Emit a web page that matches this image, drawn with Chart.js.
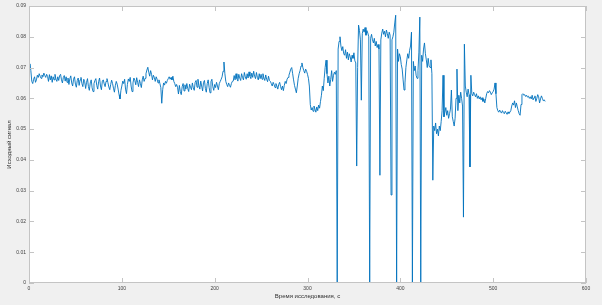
<!DOCTYPE html>
<html>
<head>
<meta charset="utf-8">
<script src="https://cdn.jsdelivr.net/npm/chart.js@4/dist/chart.umd.min.js"></script>
<style>
  html, body { margin: 0; padding: 0; background: #f0f0f0; }
  #wrap { width: 602px; height: 305px; }
</style>
</head>
<body>
<div id="wrap"><canvas id="signal-chart" width="602" height="305"></canvas></div>
<script>
// сигнал, 1 отсчёт в секунду, t = 0..556 c
const signal = [
  .0700, .0712, .0690, .0655, .0648, .0662, .0670, .0652, .0660, .0675, .0668, .0680, .0672, .0665, .0676, .0670, .0682, .0674, .0668, .0678,
  .0671, .0655, .0677, .0660, .0673, .0652, .0670, .0660, .0678, .0662, .0655, .0670, .0658, .0674, .0678, .0660, .0650, .0668, .0674, .0656,
  .0670, .0652, .0666, .0645, .0664, .0673, .0650, .0640, .0662, .0670, .0646, .0636, .0658, .0666, .0642, .0660, .0668, .0648, .0638, .0662,
  .0654, .0632, .0652, .0664, .0638, .0626, .0650, .0660, .0634, .0622, .0648, .0658, .0664, .0642, .0630, .0654, .0666, .0640, .0628, .0656,
  .0660, .0647, .0638, .0655, .0664, .0651, .0637, .0628, .0645, .0659, .0648, .0633, .0620, .0641, .0655, .0646, .0630, .0612, .0598, .0625,
  .0640, .0656, .0648, .0662, .0630, .0615, .0645, .0663, .0655, .0668, .0640, .0622, .0650, .0666, .0658, .0644, .0667, .0652, .0638, .0660,
  .0648, .0635, .0660, .0672, .0655, .0665, .0680, .0692, .0701, .0685, .0672, .0690, .0678, .0660, .0675, .0668, .0655, .0670, .0662, .0650,
  .0660, .0648, .0635, .0584, .0628, .0650, .0643, .0655, .0649, .0658, .0664, .0670, .0662, .0668, .0660, .0672, .0655, .0648, .0638, .0645,
  .0636, .0614, .0642, .0622, .0612, .0638, .0648, .0624, .0644, .0630, .0648, .0632, .0622, .0646, .0636, .0628, .0650, .0634, .0626, .0652,
  .0658, .0636, .0662, .0642, .0630, .0656, .0640, .0624, .0652, .0658, .0632, .0620, .0648, .0660, .0636, .0618, .0654, .0662, .0638, .0626,
  .0645, .0635, .0652, .0640, .0628, .0648, .0655, .0662, .0670, .0688, .0718, .0680, .0655, .0645, .0638, .0650, .0642, .0636, .0648, .0655,
  .0656, .0674, .0660, .0680, .0664, .0656, .0678, .0666, .0658, .0680, .0668, .0660, .0684, .0670, .0662, .0680, .0666, .0686, .0672, .0664,
  .0682, .0668, .0688, .0672, .0664, .0684, .0668, .0660, .0680, .0664, .0678, .0662, .0680, .0666, .0658, .0676, .0662, .0654, .0672, .0658,
  .0655, .0648, .0640, .0652, .0645, .0635, .0648, .0640, .0630, .0645, .0652, .0638, .0628, .0640, .0625, .0642, .0655, .0648, .0662, .0668,
  .0675, .0685, .0695, .0700, .0680, .0660, .0642, .0630, .0618, .0640, .0665, .0680, .0690, .0705, .0715, .0700, .0690, .0682, .0695, .0688,
  .0678, .0665, .0640, .0580, .0562, .0570, .0558, .0575, .0565, .0555, .0572, .0560, .0578, .0568, .0590, .0610, .0640, .0625, .0665, .0700,
  .0724, .0680, .0650, .0672, .0640, .0662, .0690, .0655, .0675, .0685, .0678, .0690, 0, .0760, .0785, .0800, .0770, .0755, .0768, .0745,
  .0740, .0758, .0730, .0750, .0725, .0745, .0735, .0718, .0740, .0730, .0748, .0722, .0715, .0380, .0700, .0838, .0820, .0790, .0594, .0810,
  .0825, .0815, .0830, .0805, .0820, .0812, .0800, 0, .0795, .0808, .0790, .0780, .0795, .0770, .0785, .0765, .0775, .0760, .0350, .0790,
  .0812, .0825, .0808, .0818, .0800, .0822, .0810, .0795, .0815, .0805, .0286, .0790, .0800, .0815, .0845, .0870, 0, .0760, .0720, .0745,
  .0735, .0710, .0695, .0660, .0627, .0650, .0700, .0725, .0745, .0730, .0756, .0770, .0815, 0, .0720, .0690, .0705, .0675, .0665, .0690,
  .0750, .0864, 0, .0740, .0720, .0760, .0780, .0745, .0725, .0700, .0730, .0705, .0700, .0725, .0680, .0334, .0510, .0495, .0520, .0485,
  .0500, .0478, .0510, .0495, .0525, .0560, .0675, .0540, .0555, .0570, .0545, .0560, .0535, .0550, .0565, .0627, .0540, .0525, .0510, .0535,
  .0600, .0695, .0560, .0610, .0585, .0620, .0600, .0575, .0214, .0776, .0640, .0620, .0605, .0630, .0612, .0377, .0675, .0615, .0608, .0620,
  .0612, .0605, .0615, .0600, .0608, .0598, .0605, .0595, .0602, .0590, .0598, .0585, .0600, .0615, .0622, .0618, .0625, .0620, .0612, .0618,
  .0622, .0630, .0650, .0615, .0570, .0560, .0555, .0562, .0556, .0552, .0560, .0554, .0550, .0558, .0553, .0548, .0556, .0551, .0555, .0560,
  .0575, .0585, .0578, .0592, .0570, .0585, .0572, .0560, .0550, .0545, .0580, .0612, .0615, .0610, .0612, .0606, .0610, .0604, .0607, .0600,
  .0605, .0598, .0610, .0595, .0602, .0608, .0590, .0600, .0612, .0605, .0585, .0598, .0608, .0600, .0592, .0595, .0590
];
const time = signal.map((v, i) => i);

const xTitle = 'Время исследования, с';
const yTitle = 'Исходный сигнал';
const xMin = 0, xMax = 600, xStep = 100;
const yMin = 0, yMax = 0.09, yStep = 0.01;

const fontFamily = '"Liberation Sans", Arial, sans-serif';

// белая область графика + рамка с засечками внутрь, как в MATLAB
const matlabAxes = {
    id: 'matlabAxes',
    beforeDraw(chart) {
        const { ctx, chartArea: a } = chart;
        ctx.save();
        ctx.fillStyle = '#ffffff';
        ctx.fillRect(a.left, a.top, a.right - a.left, a.bottom - a.top);
        ctx.restore();
    },
    afterDraw(chart) {
        const { ctx, chartArea: a, scales: { x, y } } = chart;
        ctx.save();
        ctx.strokeStyle = '#c4c4c4';
        ctx.lineWidth = 1;
        ctx.strokeRect(a.left + 0.5, a.top + 0.5, a.right - a.left - 1, a.bottom - a.top - 1);
        ctx.beginPath();
        x.ticks.forEach(t => {
            const px = Math.round(x.getPixelForValue(t.value)) + 0.5;
            ctx.moveTo(px, a.bottom); ctx.lineTo(px, a.bottom - 5);
            ctx.moveTo(px, a.top); ctx.lineTo(px, a.top + 5);
        });
        y.ticks.forEach(t => {
            const py = Math.round(y.getPixelForValue(t.value)) + 0.5;
            ctx.moveTo(a.left, py); ctx.lineTo(a.left + 5, py);
            ctx.moveTo(a.right, py); ctx.lineTo(a.right - 5, py);
        });
        ctx.stroke();
        ctx.restore();
    }
};

new Chart(document.getElementById('signal-chart').getContext('2d'), {
    type: 'line',
    data: {
        datasets: [{
            data: time.map((t, i) => ({ x: t, y: signal[i] })),
            borderColor: '#0072BD',
            borderWidth: 0.9,
            pointRadius: 0,
            fill: false,
            tension: 0
        }]
    },
    options: {
        responsive: false,
        animation: false,
        devicePixelRatio: 1,
        layout: { padding: { left: 0, top: 6, right: 16, bottom: 0 } },
        plugins: { legend: { display: false }, tooltip: { enabled: false } },
        scales: {
            x: {
                type: 'linear',
                min: xMin, max: xMax,
                grid: { display: false, drawTicks: false },
                border: { display: false },
                ticks: { stepSize: xStep, padding: 3, color: '#404040', font: { family: fontFamily, size: 5 } },
                title: { display: true, text: xTitle, color: '#303030', padding: { top: 0, bottom: 5 }, font: { family: fontFamily, size: 6 } },
                afterFit(scale) { scale.height = 22; }
            },
            y: {
                min: yMin, max: yMax,
                grid: { display: false, drawTicks: false },
                border: { display: false },
                ticks: { stepSize: yStep, padding: 3, color: '#404040', font: { family: fontFamily, size: 5 } },
                title: { display: true, text: yTitle, color: '#303030', padding: { top: 6, bottom: 0 }, font: { family: fontFamily, size: 6 } },
                afterFit(scale) { scale.width = 29; }
            }
        }
    },
    plugins: [matlabAxes]
});
</script>
</body>
</html>
